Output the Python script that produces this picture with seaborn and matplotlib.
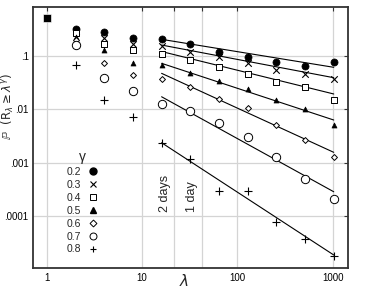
import matplotlib
matplotlib.use("Agg")
import matplotlib.pyplot as plt
import seaborn as sns
import pandas as pd
from matplotlib.lines import Line2D

# data
lam = [2, 4, 8, 16, 32, 64, 128, 256, 512, 1024]
gammas = ["0.2", "0.3", "0.4", "0.5", "0.6", "0.7", "0.8"]
p02 = [0.321, 0.279, 0.220, 0.213, 0.166, 0.117, 0.0946, 0.0782, 0.0658, 0.0782]
p03 = [0.294, 0.222, 0.166, 0.152, 0.120, 0.097, 0.0748, 0.0546, 0.0454, 0.0375]
p04 = [0.276, 0.168, 0.130, 0.108, 0.0841, 0.0622, 0.0466, 0.0325, 0.0265, 0.0149]
p05 = [0.224, 0.128, 0.0729, 0.068, 0.0473, 0.0344, 0.0237, 0.0149, 0.0100, 0.00507]
p06 = [0.200, 0.0755, 0.044, 0.0366, 0.0259, 0.0156, 0.0107, 0.00514, 0.00262, 0.00127]
p07 = [0.161, 0.0387, 0.0220, 0.0124, 0.0093, 0.00546, 0.00306, 0.00129, 0.000486, 0.000205]
p08 = [0.068, 0.0151, 0.00726, 0.00236, 0.00117, 0.000297, 0.000297, 7.69e-5, 3.77e-5, 1.79e-5]

# common point at lambda = 1
lam_one = [1]
p_one = [0.516]

# fitted lines (values at both ends)
fit_lam = [16, 1024]
fit02 = [0.2056, 0.0614]
fit03 = [0.1607, 0.0392]
fit04 = [0.1214, 0.0194]
fit05 = [0.0729, 0.0063]
fit06 = [0.0473, 0.00156]
fit07 = [0.0172, 0.000284]
fit08 = [0.00236, 1.85e-5]

xticks = [1, 10, 21.7, 42.8, 100, 1000]
xticklabels = ["1", "10", "", "", "100", "1000"]
yticks = [0.0001, 0.001, 0.01, 0.1]
yticklabels = [".0001", ".001", ".01", ".1"]

series = [p02, p03, p04, p05, p06, p07, p08]
fits = [fit02, fit03, fit04, fit05, fit06, fit07, fit08]
# marker, filled, size
styles = [("o", True, 26), ("x", True, 22), ("s", False, 22), ("^", True, 13),
          ("D", False, 9), ("o", False, 36), ("+", True, 30)]

sns.set_style("white")
plt.rcParams["font.family"] = ["Liberation Sans", "DejaVu Sans"]
plt.rcParams["mathtext.fontset"] = "dejavusans"

fig = plt.figure(figsize=(3.65, 2.93), dpi=100)
ax = fig.add_axes([0.090, 0.085, 0.863, 0.891])

handles = []
for g, vals, fit, (m, filled, s) in zip(gammas, series, fits, styles):
    df = pd.DataFrame({"lam": lam, "p": vals})
    if m in ("x", "+"):
        sns.scatterplot(data=df, x="lam", y="p", marker=m, s=s, color="black",
                        linewidth=0.8, ax=ax, zorder=3)
        h = Line2D([], [], marker=m, ls="", color="black", markersize=4.5, markeredgewidth=0.8)
    elif filled:
        sns.scatterplot(data=df, x="lam", y="p", marker=m, s=s, color="black",
                        edgecolor="black", linewidth=0.5, ax=ax, zorder=3)
        h = Line2D([], [], marker=m, ls="", color="black", markersize=4 if m == "^" else 5)
    else:
        sns.scatterplot(data=df, x="lam", y="p", marker=m, s=s, facecolor="white",
                        edgecolor="black", linewidth=0.7, ax=ax, zorder=3)
        h = Line2D([], [], marker=m, ls="", markerfacecolor="white", markeredgecolor="black",
                   markersize=3.5 if m == "D" else 5, markeredgewidth=0.7)
    handles.append(h)
    fdf = pd.DataFrame({"lam": fit_lam, "p": fit})
    sns.lineplot(data=fdf, x="lam", y="p", color="black", linewidth=0.8, ax=ax, zorder=2)

sns.scatterplot(x=lam_one, y=p_one, marker="s", s=30, color="black", ax=ax, zorder=3)

ax.set_xscale("log")
ax.set_yscale("log")
ax.set_xlim(0.713, 1440)
ax.set_ylim(1.05e-5, 0.83)
ax.set_xticks(xticks)
ax.set_xticklabels(xticklabels)
ax.set_yticks(yticks)
ax.set_yticklabels(yticklabels)
ax.minorticks_off()
ax.tick_params(direction="in", length=3, width=0.8, labelsize=7, top=True, right=True,
               colors="#333333", labelcolor="black")
ax.tick_params(axis="y", pad=3)
ax.grid(True, color="#d4d4d4", linewidth=0.9)
for sp in ax.spines.values():
    sp.set_color("#333333")
    sp.set_linewidth(1.3)

ax.set_xlabel(r"$\lambda$", fontsize=11, va="center")
ax.xaxis.set_label_coords(0.48, -0.05)
ax.set_ylabel(r"$\mathbb{P}\ \ (\mathrm{R}_\lambda \geq \lambda^\gamma)$", fontsize=8.5, va="center")
ax.yaxis.set_label_coords(-0.079, 0.62)

ax.text(17.3, 1.18e-4, "2 days", rotation=90, ha="center", va="bottom", fontsize=9)
ax.text(33, 1.18e-4, "1 day", rotation=90, ha="center", va="bottom", fontsize=9)

leg = ax.legend(handles, gammas, title="\u03b3", markerfirst=False, frameon=False,
                loc="upper left", bbox_to_anchor=(0.085, 0.48), fontsize=7.5,
                title_fontsize=10, labelspacing=0.28, handlelength=1.0,
                handletextpad=0.6, borderpad=0.2)

fig.savefig("out.png", dpi=100)
